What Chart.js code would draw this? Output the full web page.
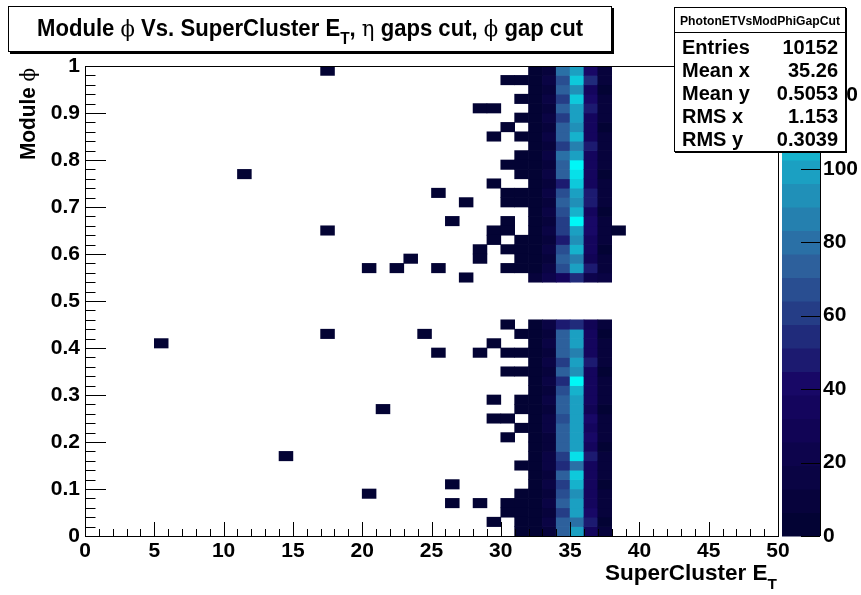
<!DOCTYPE html>
<html>
<head>
<meta charset="utf-8">
<script src="https://cdn.jsdelivr.net/npm/chart.js@4/dist/chart.umd.min.js"></script>
<style>
  html, body { margin: 0; padding: 0; background: #fff; }
  canvas { display: block; }
</style>
</head>
<body>
<canvas id="c" width="861" height="595"></canvas>
<script>
// ---- Histogram binning: E_T in 1 GeV bins over [0,50], module phi in 0.02 bins over [0,1]
const etBinWidth = 1;
const phiBinWidth = 0.02;
const nPhiBins = 50;

// Counts per phi bin (row 0 = [0,0.02) ... row 49 = [0.98,1.0)); null = empty (phi gap cut 0.46-0.54)
const gap = [null, null, null, null];
const et32 = [3,2,4,3,5,3,2,4,3,2,5,3,4,2,3,4,3,2,4,3,2,3,4, ...gap,
              8,4,3,2,5,3,4,2,3,5,3,2,4,3,2,3,4,2,3,4,2,3,4];
const et33 = [12,14,11,13,10,15,12,14,13,11,12,16,13,10,14,12,15,11,13,12,14,11,17, ...gap,
              20,13,11,14,12,15,12,13,11,14,12,15,10,13,12,14,11,13,12,15,11,13,10];
const et34 = [76,75,63,76,64,61,71,56,62,71,76,71,64,75,76,64,53,71,61,71,71,71,48, ...gap,
              37,69,75,66,50,61,63,66,75,66,49,71,71,80,61,75,74,58,74,62,74,64,78];
const et35 = [99,83,102,101,93,106,112,83,118,99,102,102,101,99,96,106,125,93,98,86,97,98,56, ...gap,
              52,99,87,106,93,102,125,104,93,99,112,118,125,102,89,106,93,100,102,112,93,112,99];
const et36 = [36,48,40,34,35,35,34,32,51,34,40,35,40,31,35,36,33,34,48,35,35,33,26, ...gap,
              20,51,31,36,35,40,40,37,46,46,33,33,36,35,49,33,35,33,49,42,37,55,40];
const et37 = [8,6,9,7,10,6,8,7,9,6,8,7,10,6,8,7,9,6,8,7,9,6,8, ...gap,
              17,7,9,6,8,7,10,6,8,9,7,6,8,10,7,9,6,8,7,9,6,8,7];
const denseBins = [32, 33, 34, 35, 36, 37];
const denseCounts = [et32, et33, et34, et35, et36, et37];

// Isolated entries: [E_T bin, phi bin, count]
const sparseCells = [
  [17,49,1],[30,48,1],[31,48,2],[31,46,1],[28,45,1],[29,45,1],[31,44,1],[30,43,1],
  [29,42,1],[31,42,1],[31,40,2],[30,39,1],[31,39,1],[11,38,1],[31,38,1],[29,37,1],
  [25,36,1],[30,36,1],[31,36,2],[27,35,1],[30,35,1],[31,35,1],[26,33,1],[30,33,1],
  [17,32,1],[29,32,1],[30,32,1],[38,32,1],[29,31,1],[31,31,1],[28,30,1],[30,30,1],
  [31,30,2],[23,29,1],[28,29,1],[31,29,1],[20,28,1],[22,28,1],[25,28,1],[30,28,1],
  [31,28,1],[27,27,1],
  [30,22,1],[17,21,1],[24,21,1],[31,21,1],[5,20,1],[29,20,1],[25,19,1],[28,19,1],
  [30,19,1],[31,19,2],[30,17,1],[31,17,1],[29,14,1],[31,14,1],[21,13,1],[31,13,1],
  [29,12,1],[30,12,1],[31,11,1],[30,10,1],[14,8,1],[31,7,1],[26,5,1],[20,4,1],
  [31,4,1],[26,3,1],[28,3,1],[30,3,1],[31,3,2],[30,2,1],[31,2,1],[29,1,1],[31,1,1],[31,0,2]
];

// Colour scale
const zMax = 128;
const nContours = 20;
const zTicks = [0, 20, 40, 60, 80, 100, 120];
const xTickStep = 5, yTickStep = 0.1;

// Stats box
const statsName = 'PhotonETVsModPhiGapCut';
const statsLabels = ['Entries', 'Mean x', 'Mean y', 'RMS x', 'RMS y'];
const statsValues = ['10152', '35.26', '0.5053', '1.153', '0.3039'];

// "Deep sea" gradient palette
const palStops = [0.00, 0.34, 0.61, 0.84, 1.00];
const palRed   = [0.00, 0.09, 0.18, 0.09, 0.00];
const palGreen = [0.01, 0.02, 0.39, 0.68, 0.97];
const palBlue  = [0.17, 0.39, 0.62, 0.79, 0.97];

function palette(f) {
  f = Math.max(0, Math.min(1, f));
  let i = 0;
  while (i < palStops.length - 2 && f > palStops[i + 1]) i++;
  const t = (f - palStops[i]) / (palStops[i + 1] - palStops[i]);
  const c = a => Math.round(255 * (a[i] + t * (a[i + 1] - a[i])));
  return `rgb(${c(palRed)},${c(palGreen)},${c(palBlue)})`;
}
function contourColor(k) {
  return palette((k + 0.99) / nContours);
}
function zColor(v) {
  const k = Math.min(nContours - 1, Math.floor(v / (zMax / nContours)));
  return contourColor(k);
}

// Build cells
const cells = [];
denseBins.forEach((bin, j) => {
  denseCounts[j].forEach((n, row) => {
    if (n) cells.push({ x: (bin + 0.5) * etBinWidth, y: [row * phiBinWidth, (row + 1) * phiBinWidth], v: n });
  });
});
sparseCells.forEach(([bin, row, n]) => {
  cells.push({ x: (bin + 0.5) * etBinWidth, y: [row * phiBinWidth, (row + 1) * phiBinWidth], v: n });
});

const SANS = '"Liberation Sans", Arial, Helvetica, sans-serif';
const SERIF = '"DejaVu Serif", "Liberation Serif", serif';
const PHI = '\u03D5', ETA = '\u03B7';
Chart.defaults.font.family = SANS;

function drawRuns(ctx, runs, x, y, opts) {
  opts = opts || {};
  let w = 0;
  runs.forEach(r => { ctx.font = r.font; r.w = ctx.measureText(r.t).width; w += r.w; });
  const sx = opts.width ? opts.width / w : 1;
  ctx.save();
  ctx.translate(x, y);
  if (opts.rotate) ctx.rotate(opts.rotate);
  ctx.scale(sx, 1);
  ctx.textBaseline = 'alphabetic';
  ctx.textAlign = 'left';
  ctx.fillStyle = '#000';
  let cx = opts.align === 'right' ? -w : opts.align === 'center' ? -w / 2 : 0;
  runs.forEach(r => { ctx.font = r.font; ctx.fillText(r.t, cx, r.dy || 0); cx += r.w; });
  ctx.restore();
}

const decorations = {
  id: 'decorations',
  afterDraw(chart) {
    const ctx = chart.ctx;
    const a = chart.chartArea;
    const xs = chart.scales.x, ys = chart.scales.y, zs = chart.scales.z;
    ctx.save();

    // frame
    ctx.strokeStyle = '#000';
    ctx.lineWidth = 1;
    ctx.strokeRect(Math.round(a.left) + 0.5, Math.round(a.top) + 0.5,
                   Math.round(a.right - a.left), Math.round(a.bottom - a.top));

    // x ticks (inside frame)
    ctx.beginPath();
    for (let i = 0; i <= 50; i++) {
      const px = Math.round(xs.getPixelForValue(i)) + 0.5;
      const len = i % xTickStep === 0 ? 14 : 7;
      ctx.moveTo(px, a.bottom);
      ctx.lineTo(px, a.bottom - len);
    }
    // y ticks
    for (let i = 0; i <= nPhiBins; i++) {
      const py = Math.round(ys.getPixelForValue(i * phiBinWidth)) + 0.5;
      const len = i % 5 === 0 ? 21 : 10.5;
      ctx.moveTo(a.left, py);
      ctx.lineTo(a.left + len, py);
    }
    ctx.stroke();

    // colour bar
    const barL = 782, barR = 820;
    const dz = zMax / nContours;
    for (let k = 0; k < nContours; k++) {
      const y0 = zs.getPixelForValue(k * dz);
      const y1 = zs.getPixelForValue((k + 1) * dz);
      ctx.fillStyle = contourColor(k);
      ctx.fillRect(barL, y1, barR - barL, y0 - y1 + 0.5);
    }
    ctx.beginPath();
    ctx.moveTo(barR + 0.5, a.top);
    ctx.lineTo(barR + 0.5, a.bottom);
    zTicks.forEach(t => {
      const py = Math.round(zs.getPixelForValue(t)) + 0.5;
      ctx.moveTo(barR, py);
      ctx.lineTo(barR - 19, py);
    });
    ctx.strokeStyle = '#000';
    ctx.stroke();

    // title box
    ctx.fillStyle = '#000';
    ctx.fillRect(10, 8, 604, 46);
    ctx.fillStyle = '#fff';
    ctx.fillRect(8, 6, 604, 46);
    ctx.strokeStyle = '#000';
    ctx.strokeRect(8.5, 6.5, 603, 45);
    const B23 = 'bold 23px ' + SANS, S23 = '22px ' + SERIF, B16 = 'bold 16px ' + SANS;
    drawRuns(ctx, [
      { t: 'Module ', font: B23 }, { t: PHI, font: S23 },
      { t: ' Vs. SuperCluster E', font: B23 }, { t: 'T', font: B16, dy: 8 },
      { t: ', ', font: B23 }, { t: ETA, font: S23 }, { t: ' gaps cut, ', font: B23 },
      { t: PHI, font: S23 }, { t: ' gap cut', font: B23 }
    ], 37, 36, { width: 546 });

    // stats box
    const sL = 674, sT = 7, sR = 846, sB = 152;
    ctx.fillStyle = '#000';
    ctx.fillRect(sL + 1, sT + 1, sR - sL, sB - sT);
    ctx.fillStyle = '#fff';
    ctx.fillRect(sL, sT, sR - sL, sB - sT);
    ctx.strokeStyle = '#000';
    ctx.strokeRect(sL + 0.5, sT + 0.5, sR - sL - 1, sB - sT - 1);
    ctx.beginPath();
    ctx.moveTo(sL, 32.5); ctx.lineTo(sR, 32.5);
    ctx.stroke();
    drawRuns(ctx, [{ t: statsName, font: 'bold 13px ' + SANS }], (sL + sR) / 2, 25, { align: 'center', width: 160 });
    statsLabels.forEach((lab, i) => {
      const by = 54 + i * 23;
      drawRuns(ctx, [{ t: lab, font: 'bold 20px ' + SANS }], 682, by);
      drawRuns(ctx, [{ t: statsValues[i], font: 'bold 20px ' + SANS }], 838, by, { align: 'right' });
    });

    // axis titles
    const B22 = 'bold 22px ' + SANS;
    drawRuns(ctx, [{ t: 'SuperCluster E', font: B22 }, { t: 'T', font: 'bold 15px ' + SANS, dy: 9 }],
             777, 580, { align: 'right', width: 172 });
    drawRuns(ctx, [{ t: 'Module ', font: B22 }, { t: PHI, font: '21px ' + SERIF }],
             35, 68, { align: 'right', rotate: -Math.PI / 2, width: 92 });

    ctx.restore();
  }
};

const tickFont = { size: 21, weight: 'bold', family: SANS };

new Chart(document.getElementById('c'), {
  type: 'bar',
  data: {
    datasets: [{
      data: cells,
      backgroundColor: ctx => zColor(ctx.raw ? ctx.raw.v : 0),
      borderWidth: 0,
      barPercentage: 1,
      categoryPercentage: 1,
      grouped: false
    }]
  },
  options: {
    responsive: false,
    animation: false,
    events: [],
    layout: { padding: { top: 66, left: 0, right: 0, bottom: 0 } },
    plugins: { legend: { display: false }, tooltip: { enabled: false }, title: { display: false } },
    scales: {
      x: {
        type: 'linear', min: 0, max: 50, offset: false,
        grid: { display: false, drawTicks: false }, border: { display: false },
        ticks: { stepSize: xTickStep, color: '#000', font: tickFont, padding: 3, maxRotation: 0, autoSkip: false },
        afterFit: s => { s.height = 59; }
      },
      y: {
        type: 'linear', min: 0, max: 1,
        grid: { display: false, drawTicks: false }, border: { display: false },
        ticks: {
          stepSize: yTickStep, color: '#000', font: tickFont, padding: 5, autoSkip: false,
          callback: v => String(parseFloat(Number(v).toFixed(2)))
        },
        afterFit: s => { s.width = 85; }
      },
      z: {
        type: 'linear', position: 'right', axis: 'y', min: 0, max: zMax,
        grid: { display: false, drawTicks: false }, border: { display: false },
        ticks: { stepSize: 20, includeBounds: false, color: '#000', font: tickFont, padding: 45, autoSkip: false },
        afterFit: s => { s.width = 83; }
      }
    }
  },
  plugins: [decorations]
});
</script>
</body>
</html>
